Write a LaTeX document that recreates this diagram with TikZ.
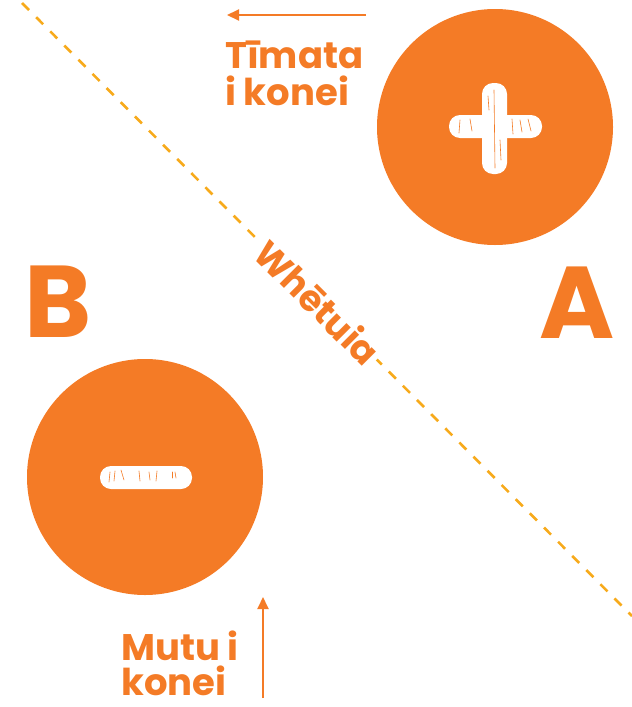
\documentclass[tikz,border=0pt]{standalone}
\usepackage{fontspec}
\setmainfont{Poppins}
\usetikzlibrary{arrows.meta}
\definecolor{orng}{HTML}{F47B26}
\definecolor{dashc}{HTML}{F7AA1B}
\begin{document}
\begin{tikzpicture}[x=1pt,y=-1pt,
  disc/.style={circle,fill=orng,inner sep=0pt,minimum size=236pt},
  bar/.style={fill=white,rounded corners=11pt},
  sketch/.style={draw=orng,line width=0.6pt,line cap=round},
  lbl/.style={text=orng,font=\fontsize{37}{40}\selectfont\bfseries,inner sep=0pt},
  big/.style={text=orng,font=\fontsize{102}{102}\selectfont\bfseries,inner sep=0pt},
  arr/.style={draw=orng,line width=2pt,-{Triangle[length=12pt,width=11pt]}},
  divider/.style={draw=dashc,line width=2.6pt,dash pattern=on 10pt off 10pt}]
\useasboundingbox (0,0) rectangle (632,707);
% divider line
\coordinate (d1) at (22,3);
\coordinate (d2) at (632,616);
\draw[divider] (d1) -- (d2);
\node[lbl,fill=white,inner sep=3pt,rotate=-45,font=\fontsize{36}{40}\selectfont\bfseries] (wh) at (318,302) {Whētuia};
% circles
\node[disc] (A) at (495,127) {};
\node[disc] (B) at (145,477) {};
% plus
\fill[bar] (482,83) rectangle (507,174);
\fill[bar] (449,115) rectangle (542,138);
\draw[sketch] (494,90) -- (495,168);
\draw[sketch] (460,120) -- (459,133);
\draw[sketch] (470,119) -- (472,131);
\draw[sketch] (488,96) -- (489,110);
\draw[sketch] (512,119) -- (513,134);
\draw[sketch] (520,120) -- (522,132);
\draw[sketch] (528,119) -- (531,131);
\draw[sketch] (500,140) -- (501,160);
% minus
\fill[bar] (100,466) rectangle (192,489);
\draw[sketch] (110,472) -- (109,482);
\draw[sketch] (115,471) -- (114,481);
\draw[sketch] (121,470) -- (124,480);
\draw[sketch] (139,471) -- (140,481);
\draw[sketch] (149,472) -- (150,480);
\draw[sketch] (157,471) -- (156,481);
\draw[sketch] (172,472) -- (172,478);
\draw[sketch] (175,472) -- (176,478);
% letters
\node[big,anchor=base west] (lb) at (24,337) {B};
\node[big,anchor=base west] (la) at (539,338) {A};
% top arrow and label
\coordinate (ta1) at (366,15);
\coordinate (ta2) at (227,15);
\draw[arr] (ta1) -- (ta2);
\node[lbl,anchor=base west] (t1) at (225,68) {Tīmata};
\node[lbl,anchor=base west] (t2) at (225,105) {i konei};
% bottom arrow and label
\coordinate (ba1) at (263,698);
\coordinate (ba2) at (263,597);
\draw[arr] (ba1) -- (ba2);
\node[lbl,anchor=base west] (m1) at (121,660) {Mutu i};
\node[lbl,anchor=base west] (m2) at (121,695) {konei};
\end{tikzpicture}
\end{document}
